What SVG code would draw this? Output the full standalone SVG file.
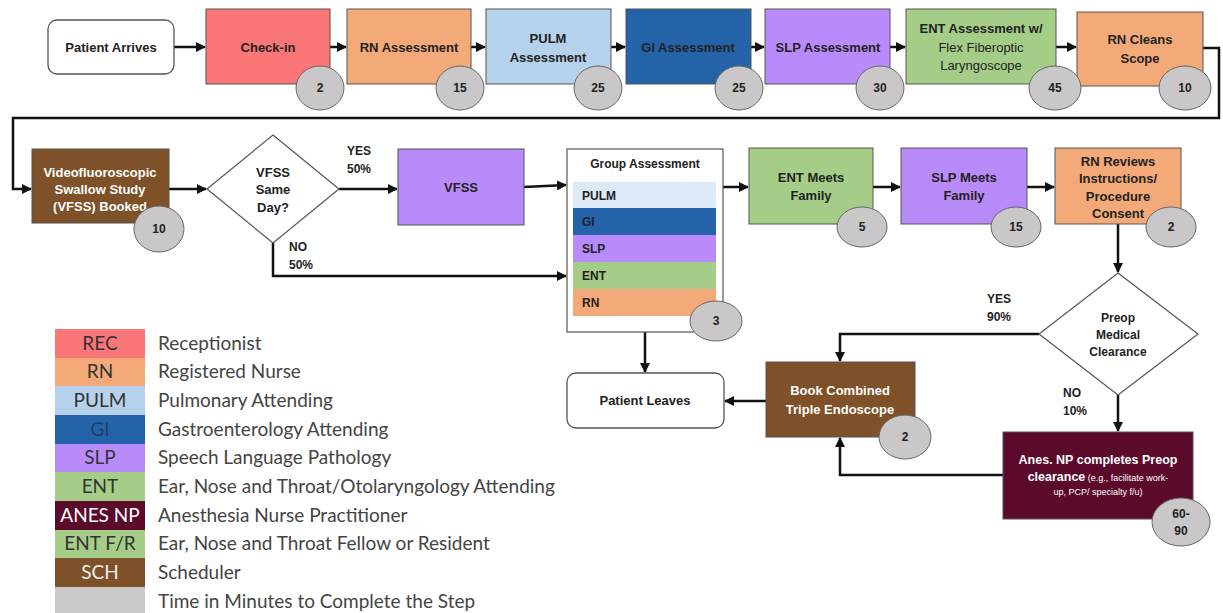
<svg xmlns="http://www.w3.org/2000/svg" width="1223" height="613" viewBox="0 0 1223 613">
<defs>
<marker id="ah" viewBox="0 0 10 10" refX="9" refY="5" markerWidth="4" markerHeight="4" orient="auto" markerUnits="strokeWidth">
<path d="M0,0 L10,5 L0,10 z" fill="#111"/>
</marker>
<style>
.t{font-family:"Liberation Sans",Arial,sans-serif;font-weight:700;font-size:13px;fill:#222;text-anchor:middle}
.tw{fill:#fff}
.tr{font-weight:400}
.box{stroke:#555;stroke-width:1}
.rbox{fill:#fff;stroke:#555;stroke-width:1.3}
.c{fill:#c9c7c7;stroke:#666;stroke-width:1}
.cn{font-family:"Liberation Sans",Arial,sans-serif;font-weight:700;font-size:12px;fill:#222;text-anchor:middle}
.con{fill:none;stroke:#111;stroke-width:2.5;marker-end:url(#ah)}
.lg{font-family:Lato,"Open Sans",sans-serif;font-size:19px;fill:#444}
.lgs{font-family:Lato,"Open Sans",sans-serif;font-size:19px;fill:#333;text-anchor:middle}
.bl{font-family:"Liberation Sans",Arial,sans-serif;font-weight:700;font-size:12px;fill:#222}
.rec{fill:#fb7676}.rn{fill:#f3aa78}.pulm{fill:#b6d1ec}.gi{fill:#2563a9}.slp{fill:#b98bfa}.ent{fill:#a5cd87}.sch{fill:#7e5128}.anes{fill:#5b0a2b}.gray{fill:#cbc9c9}
</style>
</defs>
<rect width="1223" height="613" fill="#fff"/>

<g id="connectors">
<line class="con" x1="174" y1="47" x2="205" y2="47"/>
<line class="con" x1="330" y1="47" x2="346" y2="47"/>
<line class="con" x1="471" y1="47" x2="485" y2="47"/>
<line class="con" x1="611" y1="47" x2="625" y2="47"/>
<line class="con" x1="751" y1="47" x2="764" y2="47"/>
<line class="con" x1="890" y1="47" x2="905" y2="47"/>
<line class="con" x1="1056" y1="47" x2="1076" y2="47"/>
<path class="con" d="M1203,48 H1219 V118 H13 V189 H31"/>
<line class="con" x1="169" y1="189" x2="206" y2="189"/>
<line class="con" x1="339" y1="189" x2="397" y2="189"/>
<line class="con" x1="524" y1="187" x2="566" y2="185"/>
<path class="con" d="M273,243 V276 H566"/>
<line class="con" x1="723" y1="187" x2="748" y2="187"/>
<line class="con" x1="873" y1="187" x2="900" y2="187"/>
<line class="con" x1="1027" y1="187" x2="1054" y2="187"/>
<line class="con" x1="1118" y1="224" x2="1118" y2="272"/>
<path class="con" d="M1039,334 H840 V361"/>
<line class="con" x1="1118" y1="395" x2="1118" y2="431"/>
<path class="con" d="M1003,475 H840 V438"/>
<line class="con" x1="766" y1="401" x2="725" y2="401"/>
<line class="con" x1="645" y1="332" x2="645" y2="372"/>
</g>

<g id="patient-arrives">
<rect class="rbox" x="48" y="20" width="126" height="54" rx="9"/>
<text class="t" x="111" y="52">Patient Arrives</text>
</g>
<g id="check-in">
<rect class="box rec" x="206" y="9" width="124" height="75"/>
<text class="t" x="268" y="52">Check-in</text>
</g>
<g id="rn-assessment">
<rect class="box rn" x="347" y="9" width="124" height="75"/>
<text class="t" x="409" y="52">RN Assessment</text>
</g>
<g id="pulm-assessment">
<rect class="box pulm" x="486" y="9" width="125" height="75"/>
<text class="t" x="548" y="43">PULM</text>
<text class="t" x="548" y="62">Assessment</text>
</g>
<g id="gi-assessment">
<rect class="box gi" x="626" y="9" width="125" height="75"/>
<text class="t" x="688" y="52">GI Assessment</text>
</g>
<g id="slp-assessment">
<rect class="box slp" x="765" y="9" width="125" height="75"/>
<text class="t" x="828" y="52">SLP Assessment</text>
</g>
<g id="ent-assessment">
<rect class="box ent" x="906" y="9" width="150" height="75"/>
<text class="t" x="981" y="33">ENT Assessment w/</text>
<text class="t tr" x="981" y="52">Flex Fiberoptic</text>
<text class="t tr" x="981" y="70">Laryngoscope</text>
</g>
<g id="rn-cleans-scope">
<rect class="box rn" x="1077" y="12" width="126" height="74"/>
<text class="t" x="1140" y="44">RN Cleans</text>
<text class="t" x="1140" y="63">Scope</text>
</g>

<g id="vfss-booked">
<rect class="box sch" x="32" y="149" width="137" height="74"/>
<text class="t tw" x="100" y="177">Videofluoroscopic</text>
<text class="t tw" x="100" y="194">Swallow Study</text>
<text class="t tw" x="100" y="211">(VFSS) Booked</text>
</g>
<g id="vfss-same-day">
<polygon points="273,135 339,189 273,243 207,189" fill="#fff" stroke="#555" stroke-width="1.2"/>
<text class="t" x="273" y="177">VFSS</text>
<text class="t" x="273" y="194">Same</text>
<text class="t" x="273" y="212">Day?</text>
</g>
<g id="label-yes-50">
<text class="bl" x="347" y="155">YES</text>
<text class="bl" x="347" y="173">50%</text>
</g>
<g id="label-no-50">
<text class="bl" x="289" y="251">NO</text>
<text class="bl" x="289" y="269">50%</text>
</g>
<g id="vfss">
<rect class="box slp" x="398" y="149" width="126" height="76"/>
<text class="t" x="461" y="192">VFSS</text>
</g>
<g id="group-assessment">
<rect x="567" y="149" width="156" height="183" fill="#fff" stroke="#555" stroke-width="1.2"/>
<text class="t" x="645" y="168" style="font-size:12px">Group Assessment</text>
<rect x="573" y="182" width="143" height="26" fill="#dde9f7"/>
<rect x="573" y="208" width="143" height="27" class="gi"/>
<rect x="573" y="235" width="143" height="27" class="slp"/>
<rect x="573" y="262" width="143" height="27" class="ent"/>
<rect x="573" y="289" width="143" height="27" class="rn"/>
<text class="bl" x="582" y="200">PULM</text>
<text class="bl" x="582" y="226">GI</text>
<text class="bl" x="582" y="253">SLP</text>
<text class="bl" x="582" y="280">ENT</text>
<text class="bl" x="582" y="307">RN</text>
</g>
<g id="ent-meets-family">
<rect class="box ent" x="749" y="148" width="124" height="76"/>
<text class="t" x="811" y="182">ENT Meets</text>
<text class="t" x="811" y="200">Family</text>
</g>
<g id="slp-meets-family">
<rect class="box slp" x="901" y="148" width="126" height="76"/>
<text class="t" x="964" y="182">SLP Meets</text>
<text class="t" x="964" y="200">Family</text>
</g>
<g id="rn-reviews">
<rect class="box rn" x="1055" y="148" width="126" height="76"/>
<text class="t" x="1118" y="166">RN Reviews</text>
<text class="t" x="1118" y="183">Instructions/</text>
<text class="t" x="1118" y="201">Procedure</text>
<text class="t" x="1118" y="218">Consent</text>
</g>
<g id="preop-clearance">
<polygon points="1118,273 1198,334 1118,395 1039,334" fill="#fff" stroke="#555" stroke-width="1.2"/>
<text class="t" x="1118" y="322" style="font-size:12px">Preop</text>
<text class="t" x="1118" y="339" style="font-size:12px">Medical</text>
<text class="t" x="1118" y="356" style="font-size:12px">Clearance</text>
</g>
<g id="label-yes-90">
<text class="bl" x="987" y="303">YES</text>
<text class="bl" x="987" y="321">90%</text>
</g>
<g id="label-no-10">
<text class="bl" x="1063" y="397">NO</text>
<text class="bl" x="1063" y="415">10%</text>
</g>
<g id="book-triple-endoscope">
<rect class="box sch" x="766" y="362" width="149" height="75"/>
<text class="t tw" x="840" y="395">Book Combined</text>
<text class="t tw" x="840" y="414">Triple Endoscope</text>
</g>
<g id="patient-leaves">
<rect class="rbox" x="567" y="373" width="157" height="55" rx="9"/>
<text class="t" x="645" y="405">Patient Leaves</text>
</g>
<g id="anes-np">
<rect class="box anes" x="1003" y="432" width="190" height="87"/>
<text class="t tw" x="1098" y="464" style="font-size:12.5px">Anes. NP completes Preop</text>
<text class="t tw" x="1098" y="481" style="font-size:12.5px"><tspan>clearance</tspan><tspan style="font-weight:400;font-size:9px"> (e.g., facilitate work-</tspan></text>
<text class="t tw tr" x="1098" y="495" style="font-size:9px">up, PCP/ specialty f/u)</text>
</g>

<g id="time-circles">
<ellipse class="c" cx="320" cy="88" rx="24" ry="22"/><text class="cn" x="320" y="92">2</text>
<ellipse class="c" cx="460" cy="88" rx="24" ry="22"/><text class="cn" x="460" y="92">15</text>
<ellipse class="c" cx="598" cy="88" rx="24" ry="22"/><text class="cn" x="598" y="92">25</text>
<ellipse class="c" cx="739" cy="88" rx="24" ry="22"/><text class="cn" x="739" y="92">25</text>
<ellipse class="c" cx="880" cy="88" rx="24" ry="22"/><text class="cn" x="880" y="92">30</text>
<ellipse class="c" cx="1055" cy="88" rx="26" ry="22"/><text class="cn" x="1055" y="92">45</text>
<ellipse class="c" cx="1185" cy="88" rx="26" ry="22"/><text class="cn" x="1185" y="92">10</text>
<ellipse class="c" cx="159" cy="229" rx="25" ry="23"/><text class="cn" x="159" y="233">10</text>
<ellipse class="c" cx="716" cy="321" rx="26" ry="20"/><text class="cn" x="716" y="325">3</text>
<ellipse class="c" cx="862" cy="227" rx="25" ry="20"/><text class="cn" x="862" y="231">5</text>
<ellipse class="c" cx="1016" cy="227" rx="25" ry="20"/><text class="cn" x="1016" y="231">15</text>
<ellipse class="c" cx="1171" cy="227" rx="25" ry="20"/><text class="cn" x="1171" y="231">2</text>
<ellipse class="c" cx="905" cy="437" rx="26" ry="22"/><text class="cn" x="905" y="441">2</text>
<ellipse class="c" cx="1181" cy="522" rx="29" ry="24"/><text class="cn" x="1181" y="518">60-</text><text class="cn" x="1181" y="535">90</text>
</g>

<g id="legend">
<rect x="55" y="329" width="90" height="29" class="rec"/>
<rect x="55" y="358" width="90" height="28" class="rn"/>
<rect x="55" y="386" width="90" height="29" class="pulm"/>
<rect x="55" y="415" width="90" height="29" class="gi"/>
<rect x="55" y="444" width="90" height="28" class="slp"/>
<rect x="55" y="472" width="90" height="29" class="ent"/>
<rect x="55" y="501" width="90" height="29" class="anes"/>
<rect x="55" y="530" width="90" height="28" class="ent"/>
<rect x="55" y="558" width="90" height="29" class="sch"/>
<rect x="55" y="587" width="90" height="26" class="gray"/>
<text class="lgs" x="100" y="350">REC</text>
<text class="lgs" x="100" y="378">RN</text>
<text class="lgs" x="100" y="407">PULM</text>
<text class="lgs" x="100" y="436" style="fill:#1f3f66">GI</text>
<text class="lgs" x="100" y="464">SLP</text>
<text class="lgs" x="100" y="493">ENT</text>
<text class="lgs" x="100" y="522" style="fill:#fff">ANES NP</text>
<text class="lgs" x="100" y="550">ENT F/R</text>
<text class="lgs" x="100" y="579" style="fill:#eee">SCH</text>
<text class="lg" x="158" y="350">Receptionist</text>
<text class="lg" x="158" y="378">Registered Nurse</text>
<text class="lg" x="158" y="407">Pulmonary Attending</text>
<text class="lg" x="158" y="436">Gastroenterology Attending</text>
<text class="lg" x="158" y="464">Speech Language Pathology</text>
<text class="lg" x="158" y="493">Ear, Nose and Throat/Otolaryngology Attending</text>
<text class="lg" x="158" y="522">Anesthesia Nurse Practitioner</text>
<text class="lg" x="158" y="550">Ear, Nose and Throat Fellow or Resident</text>
<text class="lg" x="158" y="579">Scheduler</text>
<text class="lg" x="158" y="608">Time in Minutes to Complete the Step</text>
</g>
</svg>
